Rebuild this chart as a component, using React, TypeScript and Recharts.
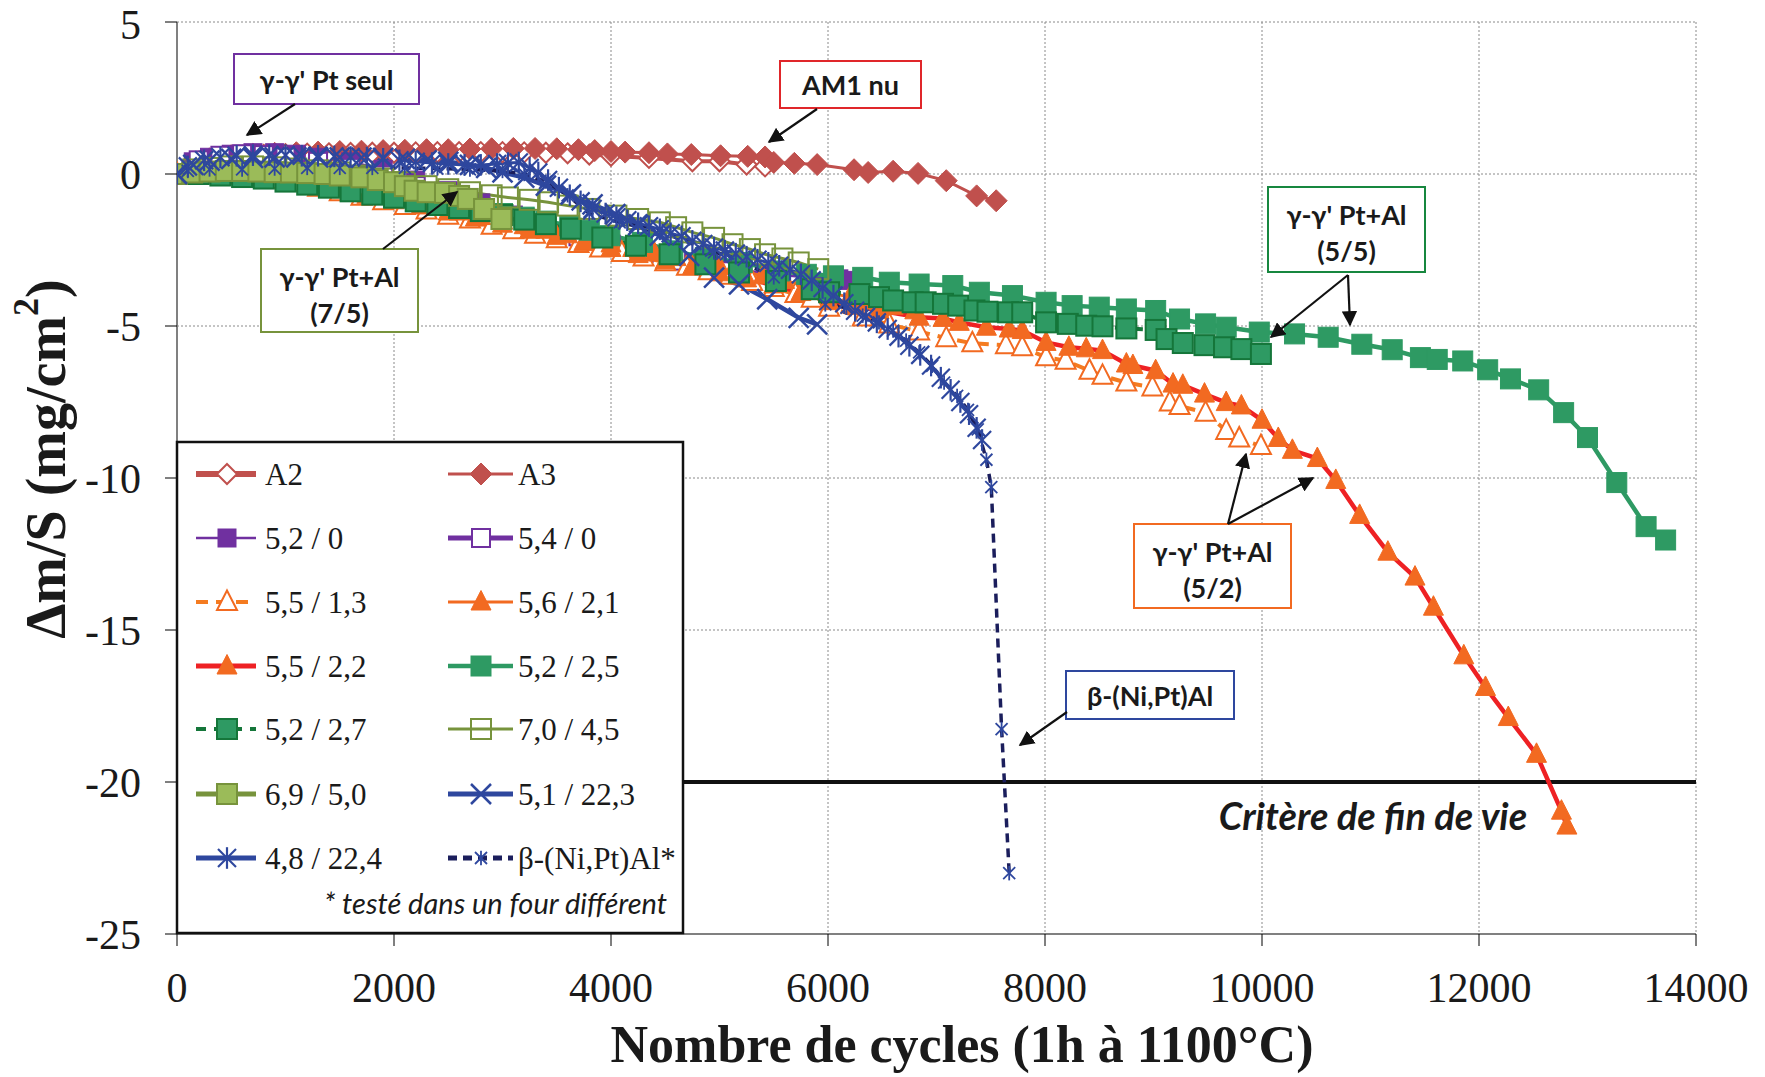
import React from "react";
import { LineChart, Line, XAxis, YAxis, CartesianGrid, ReferenceLine } from "recharts";

type Pt = [number, number];

const xTicks = [0, 2000, 4000, 6000, 8000, 10000, 12000, 14000];
const yTicks = [-25, -20, -15, -10, -5, 0, 5];
const endOfLife = -20;

// [cycles, dm/S]
const a2: Pt[] = [
  [0, 0], [200, 0.4], [400, 0.52], [600, 0.6], [800, 0.63], [1000, 0.65], [1200, 0.67], [1400, 0.68],
  [1600, 0.69], [1800, 0.7], [2000, 0.7], [2200, 0.71], [2400, 0.72], [2600, 0.72], [2800, 0.72],
  [3000, 0.72], [3200, 0.71], [3400, 0.7], [3600, 0.68], [3800, 0.64], [4000, 0.6], [4350, 0.53],
  [4750, 0.42], [5000, 0.42], [5250, 0.31], [5420, 0.25],
];
const a3: Pt[] = [
  [0, 0], [150, 0.35], [300, 0.5], [500, 0.6], [700, 0.65], [900, 0.68], [1100, 0.7], [1300, 0.72],
  [1500, 0.74], [1700, 0.75], [1900, 0.77], [2100, 0.78], [2300, 0.8], [2500, 0.8], [2700, 0.82],
  [2900, 0.83], [3100, 0.84], [3300, 0.84], [3500, 0.83], [3700, 0.8], [3850, 0.77], [4000, 0.74],
  [4130, 0.72], [4350, 0.7], [4520, 0.66], [4740, 0.64], [5010, 0.6], [5260, 0.58], [5420, 0.56],
  [5500, 0.38], [5690, 0.35], [5900, 0.31], [6240, 0.14], [6370, 0.05], [6600, 0.09], [6830, 0.02],
  [7090, -0.22], [7370, -0.72], [7550, -0.88],
];
const pt52_0: Pt[] = [
  [0, 0], [150, 0.4], [300, 0.55], [500, 0.65], [700, 0.7], [900, 0.7], [1100, 0.65], [1300, 0.55],
  [1600, 0.4], [1900, 0.15], [2200, -0.2], [2500, -0.55], [2800, -0.95], [3100, -1.35], [3400, -1.7],
  [3700, -2.0], [4000, -2.3], [4300, -2.55], [4600, -2.8], [4900, -3.0], [5200, -3.15], [5500, -3.3],
  [5800, -3.4], [6100, -3.45], [6200, -3.5],
];
const pt54_0: Pt[] = [
  [0, 0], [200, 0.45], [400, 0.6], [600, 0.65], [800, 0.62], [1000, 0.55], [1300, 0.4], [1600, 0.2],
  [1900, -0.05], [2200, -0.4], [2500, -0.75], [2800, -1.1], [3100, -1.45], [3400, -1.75], [3700, -2.05],
  [4000, -2.35], [4300, -2.6], [4600, -2.85], [4900, -3.05], [5100, -3.2],
];
const pt55_13: Pt[] = [
  [0, 0], [150, 0.02], [300, -0.02], [500, -0.05], [700, -0.1], [900, -0.2], [1100, -0.3], [1300, -0.45],
  [1500, -0.6], [1700, -0.75], [1900, -0.9], [2100, -1.05], [2300, -1.2], [2500, -1.37], [2700, -1.5],
  [2900, -1.7], [3100, -1.85], [3300, -2.0], [3500, -2.15], [3700, -2.3], [3900, -2.45], [4100, -2.6],
  [4300, -2.75], [4500, -2.9], [4700, -3.05], [4900, -3.2], [5100, -3.35], [5300, -3.55], [5500, -3.75],
  [5700, -3.95], [5850, -4.1], [6010, -4.4], [6320, -4.72], [6565, -4.95], [6840, -5.18], [7090, -5.4],
  [7330, -5.57], [7640, -5.63], [7790, -5.7], [8010, -6.03], [8190, -6.14], [8410, -6.47], [8530, -6.64],
  [8750, -6.86], [8990, -7.02], [9150, -7.52], [9240, -7.63], [9480, -7.85], [9670, -8.45],
  [9790, -8.7], [9990, -8.95],
];
const pt56_21: Pt[] = [
  [0, 0], [200, 0.05], [400, 0.05], [600, 0.0], [800, -0.08], [1000, -0.15], [1200, -0.25], [1400, -0.38],
  [1600, -0.5], [1800, -0.65], [2000, -0.8], [2200, -0.95], [2400, -1.1], [2600, -1.25], [2800, -1.4],
  [3000, -1.55], [3200, -1.7], [3400, -1.85], [3600, -2.0], [3800, -2.15], [4000, -2.3], [4200, -2.45],
  [4400, -2.6], [4600, -2.75], [4800, -2.9], [5000, -3.05], [5200, -3.2], [5400, -3.35], [5600, -3.5],
  [5800, -3.7], [6000, -3.9], [6200, -4.05], [6400, -4.2], [6600, -4.35], [6800, -4.5],
];
const pt55_22: Pt[] = [
  [0, 0], [250, 0.02], [500, -0.02], [750, -0.1], [1000, -0.2], [1250, -0.35], [1500, -0.52], [1750, -0.7],
  [2000, -0.88], [2250, -1.05], [2500, -1.25], [2750, -1.45], [3000, -1.65], [3250, -1.85], [3500, -2.05],
  [3750, -2.25], [4000, -2.45], [4250, -2.65], [4500, -2.85], [4750, -3.05], [5000, -3.25], [5250, -3.45],
  [5500, -3.65], [5750, -3.9], [6010, -4.2], [6250, -4.35], [6470, -4.49], [6840, -4.71], [7060, -4.75],
  [7210, -4.88], [7460, -5.04], [7670, -5.1], [7790, -5.15], [8010, -5.54], [8220, -5.7], [8380, -5.75],
  [8530, -5.81], [8750, -6.25], [8810, -6.3], [9020, -6.47], [9180, -6.91], [9270, -6.95], [9470, -7.24],
  [9670, -7.52], [9810, -7.63], [10000, -8.1], [10150, -8.7], [10280, -9.09], [10510, -9.36],
  [10680, -10.08], [10900, -11.23], [11160, -12.44], [11410, -13.26], [11580, -14.25], [11860, -15.85],
  [12060, -16.89], [12270, -17.88], [12530, -19.09], [12760, -20.96], [12810, -21.45],
];
const pt52_25: Pt[] = [
  [0, 0], [200, 0.05], [400, 0.02], [600, -0.02], [800, -0.08], [1000, -0.18], [1200, -0.28], [1400, -0.4],
  [1600, -0.52], [1800, -0.64], [2000, -0.76], [2200, -0.88], [2400, -1.0], [2600, -1.1], [2800, -1.2],
  [3000, -1.3], [3200, -1.42], [3400, -1.55], [3620, -1.7], [3800, -1.85], [3990, -2.03], [4290, -2.25],
  [4570, -2.53], [4870, -2.75], [5210, -2.91], [5550, -3.19], [5800, -3.3], [6050, -3.35], [6320, -3.4],
  [6565, -3.56], [6840, -3.62], [7150, -3.67], [7395, -3.89], [7700, -4.0], [8010, -4.22], [8250, -4.33],
  [8500, -4.38], [8750, -4.44], [9020, -4.49], [9240, -4.77], [9480, -4.93], [9670, -5.04], [9975, -5.2],
  [10300, -5.26], [10610, -5.37], [10920, -5.6], [11200, -5.78], [11460, -6.04], [11615, -6.1],
  [11850, -6.15], [12080, -6.44], [12290, -6.74], [12550, -7.1], [12780, -7.85], [13000, -8.67],
  [13270, -10.15], [13540, -11.6], [13720, -12.04],
];
const pt52_27: Pt[] = [
  [0, 0], [200, 0.0], [400, -0.05], [600, -0.1], [800, -0.15], [1000, -0.25], [1200, -0.35], [1400, -0.45],
  [1600, -0.57], [1800, -0.68], [2000, -0.78], [2200, -0.9], [2400, -1.02], [2600, -1.12], [2800, -1.22],
  [3000, -1.35], [3200, -1.5], [3400, -1.65], [3630, -1.8], [3920, -2.09], [4230, -2.36], [4540, -2.64],
  [4870, -2.97], [5180, -3.24], [5520, -3.52], [5850, -3.79], [6010, -3.89], [6290, -3.95], [6470, -4.05],
  [6600, -4.16], [6780, -4.22], [6900, -4.22], [7060, -4.27], [7200, -4.33], [7350, -4.49], [7470, -4.53],
  [7660, -4.55], [7790, -4.55], [8010, -4.88], [8210, -4.93], [8380, -4.99], [8530, -5.01], [8750, -5.08],
  [9020, -5.13], [9120, -5.43], [9270, -5.56], [9470, -5.63], [9650, -5.7], [9810, -5.76], [9990, -5.92],
];
const pt70_45: Pt[] = [
  [0, 0], [150, 0.15], [300, 0.2], [500, 0.25], [700, 0.25], [900, 0.22], [1100, 0.18], [1300, 0.12],
  [1500, 0.05], [1700, -0.05], [1900, -0.15], [2100, -0.27], [2300, -0.4], [2500, -0.5], [2700, -0.6],
  [2900, -0.7], [3050, -0.77], [3250, -0.85], [3420, -0.93], [3600, -1.04], [3800, -1.15], [4050, -1.37],
  [4250, -1.48], [4450, -1.59], [4600, -1.75], [4750, -1.92], [4950, -2.1], [5120, -2.31], [5280, -2.47],
  [5420, -2.64], [5580, -2.78], [5730, -2.91], [5910, -3.13],
];
const pt69_50: Pt[] = [
  [0, 0], [140, 0.05], [300, 0.08], [450, 0.1], [600, 0.1], [750, 0.08], [900, 0.06], [1050, 0.05],
  [1200, 0.03], [1360, 0.0], [1500, -0.05], [1700, -0.11], [1850, -0.2], [2000, -0.27], [2100, -0.4],
  [2190, -0.55], [2310, -0.6], [2470, -0.62], [2600, -0.72], [2680, -0.82], [2830, -1.15], [2990, -1.48],
];
const pt51_223: Pt[] = [
  [0, 0], [150, 0.3], [300, 0.44], [500, 0.5], [700, 0.53], [900, 0.55], [1100, 0.55], [1300, 0.55],
  [1500, 0.55], [1700, 0.54], [1900, 0.53], [2100, 0.5], [2300, 0.45], [2500, 0.4], [2700, 0.3],
  [2850, 0.2], [3000, 0.05], [3200, -0.12], [3400, -0.38], [3630, -0.67], [3830, -1.0], [4040, -1.32],
  [4250, -1.68], [4450, -2.03], [4720, -2.69], [4950, -3.41], [5180, -3.63], [5440, -4.12], [5730, -4.73],
  [5900, -4.95],
];
const pt48_224: Pt[] = [
  [0, 0], [100, 0.25], [250, 0.45], [400, 0.55], [550, 0.6], [700, 0.62], [850, 0.62], [1000, 0.62],
  [1150, 0.6], [1300, 0.6], [1450, 0.58], [1600, 0.56], [1750, 0.54], [1900, 0.5], [2050, 0.45],
  [2200, 0.4], [2350, 0.36], [2500, 0.33], [2650, 0.3], [2800, 0.3], [2950, 0.33], [3050, 0.36],
  [3150, 0.38], [3250, 0.2], [3330, 0.05], [3420, -0.2], [3520, -0.45], [3620, -0.7], [3720, -0.9],
  [3830, -1.15], [3950, -1.3], [4050, -1.42], [4150, -1.52], [4250, -1.62], [4350, -1.72], [4450, -1.82],
  [4550, -1.95], [4650, -2.05], [4750, -2.2], [4850, -2.3], [4950, -2.42], [5050, -2.52], [5150, -2.62],
  [5250, -2.72], [5350, -2.82], [5450, -2.92], [5550, -3.02], [5650, -3.15], [5750, -3.3], [5850, -3.5],
  [5950, -3.75], [6050, -4.0], [6150, -4.25], [6250, -4.5], [6350, -4.7], [6450, -4.88], [6550, -5.1],
  [6650, -5.35], [6750, -5.65], [6850, -5.95], [6950, -6.3], [7040, -6.7], [7130, -7.1], [7220, -7.5],
  [7300, -7.9], [7370, -8.35], [7420, -8.75],
];
const beta: Pt[] = [
  [0, 0], [100, 0.1], [300, 0.15], [600, 0.15], [900, 0.18], [1200, 0.2], [1500, 0.2], [1800, 0.2],
  [2100, 0.2], [2400, 0.18], [2700, 0.15], [3000, 0.1], [3200, 0.0], [3400, -0.25], [3600, -0.7],
  [3800, -1.3], [4080, -1.59], [4475, -1.92], [4950, -2.58], [5060, -2.64], [5500, -3.4], [5975, -4.29],
  [6170, -4.4], [6320, -4.66], [6470, -4.88], [6600, -5.15], [6720, -5.48], [6840, -5.87], [6960, -6.31],
  [7070, -6.86], [7190, -7.3], [7290, -7.76], [7380, -8.4], [7460, -9.4], [7505, -10.3], [7600, -18.26],
  [7670, -23.0],
];

type Shape = "diamond" | "square" | "triangle" | "x" | "star";
interface Mk { shape: Shape; r: number; fill: string; stroke: string; sw: number }
interface Series {
  name: string;
  data: Pt[];
  color: string;
  width: number;
  dash?: string;
  legendWidth?: number;
  marker: Mk;
}

const ORANGE = "#F26A21";
const GREEN = "#2E9A63";
const DKGREEN = "#15763A";
const OLIVE = "#77933C";
const BLUE = "#2E479E";
const BROWN = "#C0504D";
const PURPLE = "#7030A0";

const series: Series[] = [
  { name: "A2", data: a2, color: BROWN, width: 4, legendWidth: 6, marker: { shape: "diamond", r: 10, fill: "#fff", stroke: BROWN, sw: 2 } },
  { name: "A3", data: a3, color: BROWN, width: 3, marker: { shape: "diamond", r: 11, fill: BROWN, stroke: BROWN, sw: 1 } },
  { name: "5,2 / 0", data: pt52_0, color: PURPLE, width: 2.5, marker: { shape: "square", r: 9, fill: PURPLE, stroke: PURPLE, sw: 1 } },
  { name: "5,4 / 0", data: pt54_0, color: PURPLE, width: 4, legendWidth: 5, marker: { shape: "square", r: 9, fill: "#fff", stroke: PURPLE, sw: 2 } },
  { name: "5,5 / 1,3", data: pt55_13, color: "#F47B20", width: 4, dash: "12 8", marker: { shape: "triangle", r: 10, fill: "#fff", stroke: ORANGE, sw: 2 } },
  { name: "5,6 / 2,1", data: pt56_21, color: ORANGE, width: 3, marker: { shape: "triangle", r: 10, fill: ORANGE, stroke: ORANGE, sw: 1 } },
  { name: "5,5 / 2,2", data: pt55_22, color: "#EE2124", width: 4.5, legendWidth: 5, marker: { shape: "triangle", r: 10, fill: ORANGE, stroke: ORANGE, sw: 1 } },
  { name: "5,2 / 2,5", data: pt52_25, color: GREEN, width: 4.5, marker: { shape: "square", r: 10, fill: GREEN, stroke: GREEN, sw: 1 } },
  { name: "5,2 / 2,7", data: pt52_27, color: DKGREEN, width: 4, dash: "10 8", marker: { shape: "square", r: 10, fill: GREEN, stroke: DKGREEN, sw: 2 } },
  { name: "7,0 / 4,5", data: pt70_45, color: OLIVE, width: 3, marker: { shape: "square", r: 10, fill: "none", stroke: OLIVE, sw: 2 } },
  { name: "6,9 / 5,0", data: pt69_50, color: OLIVE, width: 4, legendWidth: 5, marker: { shape: "square", r: 10, fill: "#9BBB59", stroke: OLIVE, sw: 2 } },
  { name: "5,1 / 22,3", data: pt51_223, color: BLUE, width: 4.5, legendWidth: 5, marker: { shape: "x", r: 10, fill: "none", stroke: BLUE, sw: 2.5 } },
  { name: "4,8 / 22,4", data: pt48_224, color: BLUE, width: 3, legendWidth: 5, marker: { shape: "star", r: 9, fill: "none", stroke: BLUE, sw: 2.2 } },
  { name: "β-(Ni,Pt)Al*", data: beta, color: "#1B1E5C", width: 3.5, dash: "9 6", legendWidth: 5, marker: { shape: "star", r: 6, fill: "none", stroke: BLUE, sw: 1.8 } },
];

function drawMarker(m: Mk, cx: number, cy: number, key?: React.Key) {
  const { shape, r, fill, stroke, sw } = m;
  switch (shape) {
    case "diamond":
      return <polygon key={key} points={`${cx},${cy - r} ${cx + r},${cy} ${cx},${cy + r} ${cx - r},${cy}`} fill={fill} stroke={stroke} strokeWidth={sw} />;
    case "square":
      return <rect key={key} x={cx - r} y={cy - r} width={2 * r} height={2 * r} fill={fill} stroke={stroke} strokeWidth={sw} />;
    case "triangle":
      return <polygon key={key} points={`${cx},${cy - r * 1.15} ${cx + r},${cy + r * 0.8} ${cx - r},${cy + r * 0.8}`} fill={fill} stroke={stroke} strokeWidth={sw} strokeLinejoin="miter" />;
    case "x":
      return (
        <g key={key} stroke={stroke} strokeWidth={sw}>
          <line x1={cx - r} y1={cy - r} x2={cx + r} y2={cy + r} />
          <line x1={cx - r} y1={cy + r} x2={cx + r} y2={cy - r} />
        </g>
      );
    default:
      return (
        <g key={key} stroke={stroke} strokeWidth={sw}>
          <line x1={cx - r} y1={cy - r} x2={cx + r} y2={cy + r} />
          <line x1={cx - r} y1={cy + r} x2={cx + r} y2={cy - r} />
          <line x1={cx} y1={cy - r * 1.2} x2={cx} y2={cy + r * 1.2} />
        </g>
      );
  }
}

const dotFor = (m: Mk) => (p: any) => {
  if (p.cx == null || p.cy == null) return <g key={p.index} />;
  return drawMarker(m, p.cx, p.cy, p.index);
};

const toRows = (d: Pt[]) => d.map(([c, v]) => ({ c, v }));

const serif = "'Liberation Serif', 'Times New Roman', serif";
const sans = "Lato, 'Open Sans', 'Liberation Sans', sans-serif";

// annotation boxes: x, y, w, h, colour, lines, arrows [x1,y1,x2,y2]
const notes = [
  { x: 234, y: 54, w: 185, h: 50, color: PURPLE, lines: ["γ-γ' Pt seul"], arrows: [[295, 104, 247, 135]] },
  { x: 780, y: 61, w: 141, h: 47, color: "#E0262A", lines: ["AM1 nu"], arrows: [[817, 109, 769, 142]] },
  { x: 261, y: 249, w: 157, h: 83, color: OLIVE, lines: ["γ-γ' Pt+Al", "(7/5)"], arrows: [[383, 249, 457, 192]] },
  { x: 1268, y: 187, w: 157, h: 85, color: "#17873F", lines: ["γ-γ' Pt+Al", "(5/5)"], arrows: [[1348, 275, 1271, 337], [1348, 275, 1350, 325]] },
  { x: 1134, y: 524, w: 157, h: 84, color: ORANGE, lines: ["γ-γ' Pt+Al", "(5/2)"], arrows: [[1228, 524, 1246, 454], [1228, 524, 1313, 478]] },
  { x: 1066, y: 671, w: 168, h: 48, color: BLUE, lines: ["β-(Ni,Pt)Al"], arrows: [[1067, 712, 1020, 745]] },
];

const legendRows = [474, 538, 602, 666, 729, 794, 858];
const legendCols = [{ x1: 196, x2: 256, mx: 227, tx: 265 }, { x1: 448, x2: 513, mx: 481, tx: 518 }];

export default function App() {
  return (
    <div style={{ position: "absolute", left: 0, top: 0, width: 1765, height: 1077, background: "#fff" }}>
      <LineChart width={1765} height={1077} margin={{ top: 22, right: 69, bottom: 0, left: 0 }}>
        <CartesianGrid stroke="#8a8a8a" strokeDasharray="2 2" strokeWidth={1} />
        <XAxis
          type="number"
          dataKey="c"
          domain={[0, 14000]}
          ticks={xTicks}
          allowDataOverflow
          height={143}
          tickSize={12}
          tickMargin={26}
          axisLine={{ stroke: "#808080", strokeWidth: 2 }}
          tickLine={{ stroke: "#000" }}
          tick={{ fill: "#1a1a1a", fontSize: 42, fontFamily: serif }}
        />
        <YAxis
          type="number"
          domain={[-25, 5]}
          ticks={yTicks}
          allowDataOverflow
          width={177}
          tickSize={12}
          tickMargin={24}
          axisLine={{ stroke: "#808080", strokeWidth: 2 }}
          tickLine={{ stroke: "#000" }}
          tick={{ fill: "#1a1a1a", fontSize: 42, fontFamily: serif }}
        />
        <ReferenceLine y={endOfLife} stroke="#111" strokeWidth={4} />
        {series.map((s) => (
          <Line
            key={s.name}
            data={toRows(s.data)}
            dataKey="v"
            name={s.name}
            type="linear"
            stroke={s.color}
            strokeWidth={s.width}
            strokeDasharray={s.dash}
            dot={dotFor(s.marker)}
            activeDot={false}
            isAnimationActive={false}
          />
        ))}
      </LineChart>

      <svg width={1765} height={1077} style={{ position: "absolute", left: 0, top: 0, pointerEvents: "none" }}>
        <defs>
          <marker id="ah" viewBox="0 0 10 10" refX="9" refY="5" markerWidth="7" markerHeight="7" orient="auto">
            <path d="M0,0 L10,5 L0,10 z" fill="#111" />
          </marker>
        </defs>

        <text
          transform="translate(46,459) rotate(-90)"
          textAnchor="middle"
          dominantBaseline="central"
          fontFamily={serif}
          fontWeight="bold"
          fontSize={56}
          fill="#1a1a1a"
        >
          Δm/S (mg/cm<tspan dy={-20} fontSize={36}>2</tspan><tspan dy={20}>)</tspan>
        </text>
        <text x={962} y={1044} textAnchor="middle" dominantBaseline="central" fontFamily={serif} fontWeight="bold" fontSize={52} fill="#1a1a1a">
          Nombre de cycles (1h à 1100°C)
        </text>

        <text x={1373} y={815} textAnchor="middle" dominantBaseline="central" fontFamily={sans} fontWeight="bold" fontStyle="italic" fontSize={38} fill="#1a1a1a">
          Critère de fin de vie
        </text>

        {notes.map((n, i) => (
          <g key={i}>
            <rect x={n.x} y={n.y} width={n.w} height={n.h} fill="#fff" stroke={n.color} strokeWidth={2} />
            {n.lines.map((t, j) => (
              <text
                key={j}
                x={n.x + n.w / 2}
                y={n.lines.length === 1 ? n.y + n.h / 2 : n.y + 27 + j * 36}
                textAnchor="middle"
                dominantBaseline="central"
                fontFamily={sans}
                fontWeight="bold"
                fontSize={27}
                fill="#1a1a1a"
              >
                {t}
              </text>
            ))}
            {n.arrows.map((a, j) => (
              <line key={j} x1={a[0]} y1={a[1]} x2={a[2]} y2={a[3]} stroke="#111" strokeWidth={2.2} markerEnd="url(#ah)" />
            ))}
          </g>
        ))}

        <rect x={177} y={442} width={506} height={491} fill="#fff" stroke="#111" strokeWidth={2.5} />
        {series.map((s, i) => {
          const col = legendCols[i % 2];
          const y = legendRows[Math.floor(i / 2)];
          return (
            <g key={s.name}>
              <line x1={col.x1} y1={y} x2={col.x2} y2={y} stroke={s.color} strokeWidth={s.legendWidth ?? s.width} strokeDasharray={s.dash} />
              {drawMarker(s.marker, col.mx, y)}
              <text x={col.tx} y={y} dominantBaseline="central" fontFamily={serif} fontSize={31} fill="#1a1a1a">
                {s.name}
              </text>
            </g>
          );
        })}
        <text x={667} y={902} textAnchor="end" dominantBaseline="central" fontFamily={sans} fontStyle="italic" fontSize={29} fill="#1a1a1a">
          * testé dans un four différent
        </text>
      </svg>
    </div>
  );
}
